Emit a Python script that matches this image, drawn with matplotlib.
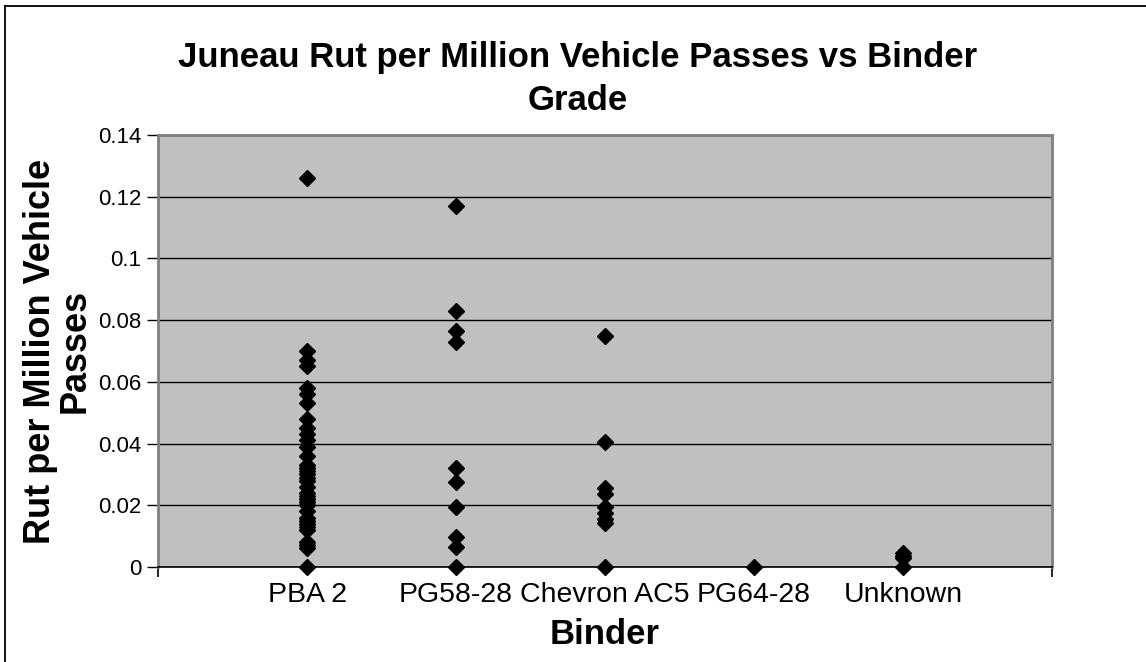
import numpy as np
import matplotlib.pyplot as plt
from matplotlib.ticker import FuncFormatter
from matplotlib.lines import Line2D

plt.rcParams['font.family'] = ['Liberation Sans', 'DejaVu Sans']

# binder categories (Excel placed them at x = 1..5)
binders = ["PBA 2", "PG58-28", "Chevron AC5", "PG64-28", "Unknown"]

# rut per million vehicle passes
pba2 = [0.126, 0.070, 0.067, 0.065, 0.058, 0.056, 0.053, 0.048, 0.045, 0.043,
        0.041, 0.039, 0.036, 0.033, 0.032, 0.031, 0.030, 0.029, 0.028, 0.026,
        0.024, 0.023, 0.022, 0.021, 0.020, 0.018, 0.016, 0.015, 0.014, 0.013,
        0.012, 0.008, 0.007, 0.006, 0.0]
pg5828 = [0.117, 0.083, 0.0765, 0.073, 0.032, 0.0276, 0.0195, 0.0098, 0.0064, 0.0]
chevron = [0.075, 0.0405, 0.0256, 0.0238, 0.0195, 0.0174, 0.0156, 0.0141, 0.0]
pg6428 = [0.0]
unknown = [0.0044, 0.0036, 0.0028, 0.0]

groups = [pba2, pg5828, chevron, pg6428, unknown]

fig = plt.figure(figsize=(11.46, 6.62), dpi=100)
ax = fig.add_axes([158/1146, 1-567/662, (1052-158)/1146, (567-135)/662])
ax.set_facecolor('#C0C0C0')

for i, vals in enumerate(groups):
    ax.plot(np.full(len(vals), i+1), vals, linestyle='none', marker='D',
            markersize=8.3, color='black', clip_on=False, zorder=3)

ax.set_xlim(0, 6)
ax.set_ylim(0, 0.14)
ax.set_yticks(np.arange(0, 0.141, 0.02))
ax.yaxis.set_major_formatter(FuncFormatter(lambda v, p: ('%.2f' % v).rstrip('0').rstrip('.') if v else '0'))
ax.set_xticks(range(1, 6))
ax.set_xticklabels(binders, fontsize=20.5)
ax.set_xticks([0, 6], minor=True)
ax.tick_params(axis='x', which='major', length=0, pad=11)
ax.tick_params(axis='x', which='minor', length=7, width=1.2)
ax.tick_params(axis='y', length=8, width=1, labelsize=16, pad=4, direction='out')
ax.grid(axis='y', color='black', linewidth=1)
ax.set_axisbelow(True)

for s in ['top', 'right', 'left']:
    ax.spines[s].set_color('#808080')
    ax.spines[s].set_linewidth(2)
ax.spines['bottom'].set_color('black')
ax.spines['bottom'].set_linewidth(1.2)

ax.set_xlabel("Binder", fontsize=25, fontweight='bold', labelpad=7)
ax.set_ylabel("Rut per Million Vehicle\nPasses", fontsize=26, fontweight='bold',
              linespacing=1.0)
ax.yaxis.set_label_coords(-0.073, 0.5)

fig.text(578/1146, 1-58/662, "Juneau Rut per Million Vehicle Passes vs Binder",
         ha='center', va='center', fontsize=25, fontweight='bold')
fig.text(578/1146, 1-101/662, "Grade", ha='center', va='center',
         fontsize=25, fontweight='bold')

# chart-area border, only top and left fall inside the picture
x0, y0 = 5/1146, 1-6/662
fig.lines.append(Line2D([x0, 1], [y0, y0], color='black', linewidth=1.3,
                        transform=fig.transFigure))
fig.lines.append(Line2D([x0, x0], [0, y0], color='black', linewidth=1.3,
                        transform=fig.transFigure))

fig.savefig('out.png', dpi=100)
